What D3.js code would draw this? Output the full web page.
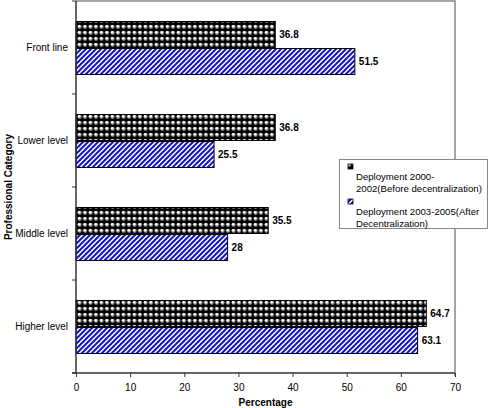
<!DOCTYPE html>
<html><head><meta charset="utf-8">
<script src="https://cdn.jsdelivr.net/npm/d3@7"></script>
<style>body{margin:0;background:#fff}svg{display:block;font-family:"Liberation Sans",Arial,sans-serif}</style>
</head><body><svg id="c" width="489" height="408"></svg>
<script>
const categories = ["Front line","Lower level","Middle level","Higher level"];
const seriesNames = ["Deployment 2000-2002(Before decentralization)","Deployment 2003-2005(After Decentralization)"];
const before = [36.8, 36.8, 35.5, 64.7];
const after = [51.5, 25.5, 28, 63.1];
const afterLabels = ["51.5","25.5","28","63.1"];
const beforeLabels = ["36.8","36.8","35.5","64.7"];
const xTicks = [0,10,20,30,40,50,60,70];

const svg = d3.select("#c");
const defs = svg.append("defs");
// bead pattern
const p1 = defs.append("pattern").attr("id","beads").attr("patternUnits","userSpaceOnUse").attr("width",5.5).attr("height",6);
p1.append("rect").attr("width",6).attr("height",6).attr("fill","#000");
p1.append("circle").attr("cx",2.6).attr("cy",2.8).attr("r",2.1).attr("fill","#888");
p1.append("circle").attr("cx",2.2).attr("cy",2.3).attr("r",1.4).attr("fill","#fff");
// stripe pattern
const p2 = defs.append("pattern").attr("id","stripes").attr("patternUnits","userSpaceOnUse").attr("width",5).attr("height",5);
p2.append("rect").attr("width",5).attr("height",5).attr("fill","#fff");
p2.append("path").attr("d","M-1,6 L6,-1 M-2,2 L2,-2 M3,7 L7,3").attr("stroke","#1414c8").attr("stroke-width",2);

const pL = 76, pR = 455, pT = 1, pB = 373;
const x = d3.scaleLinear().domain([0,70]).range([pL,pR]);
const y = d3.scaleBand().domain(categories).range([pT,pB]).paddingInner(0.43).paddingOuter(0.215);
const ySub = d3.scaleBand().domain([0,1]).range([0,y.bandwidth()]).paddingInner(0.04);

// frame
svg.append("path").attr("d",`M${pL},${pT}H${pR}V${pB+3}`).attr("fill","none").attr("stroke","#888").attr("stroke-width",1.5);

const fills = ["url(#beads)","url(#stripes)"];
const data = [before, after];
const labs = [beforeLabels, afterLabels];
data.forEach((vals,si)=>{
  svg.append("g").selectAll("rect").data(vals).join("rect")
    .attr("x",x(0)).attr("y",(d,i)=>y(categories[i])+ySub(si)+0.5)
    .attr("width",d=>x(d)-x(0)).attr("height",ySub.bandwidth())
    .attr("fill",fills[si]).attr("stroke","#000").attr("stroke-width",1);
  svg.append("g").selectAll("text").data(vals).join("text")
    .attr("x",d=>x(d)+4).attr("y",(d,i)=>y(categories[i])+ySub(si)+ySub.bandwidth()/2+4)
    .attr("font-size",10).attr("font-weight","bold").text((d,i)=>labs[si][i]);
});

// x axis
const xa = svg.append("g").attr("transform",`translate(0,${pB})`)
  .call(d3.axisBottom(x).tickValues(xTicks).tickSize(4).tickSizeOuter(0));
xa.select(".domain").attr("stroke","#333").attr("stroke-width",1.5);
xa.selectAll(".tick line").attr("stroke","#333");
xa.selectAll("text").attr("font-size",10).attr("font-family","Liberation Sans, Arial").attr("dy","1.1em");
xa.select(".domain").attr("d",`M${pL-4},0H${pR}`);

// y axis
const yt = d3.scalePoint().domain(d3.range(5)).range([pT,pB]);
svg.append("line").attr("x1",pL).attr("x2",pL).attr("y1",pT).attr("y2",pB).attr("stroke","#333").attr("stroke-width",1.5);
svg.append("g").selectAll("line").data(d3.range(5)).join("line")
  .attr("x1",pL-4).attr("x2",pL).attr("y1",d=>yt(d)).attr("y2",d=>yt(d)).attr("stroke","#333");
svg.append("g").selectAll("text").data(categories).join("text")
  .attr("x",68).attr("y",d=>y(d)+y.bandwidth()/2+3.5).attr("text-anchor","end")
  .attr("font-size",10).text(d=>d);

svg.append("text").attr("x",(pL+pR)/2).attr("y",406).attr("text-anchor","middle")
  .attr("font-size",10).attr("font-weight","bold").text("Percentage");
svg.append("text").attr("transform","translate(12,187) rotate(-90)").attr("text-anchor","middle")
  .attr("font-size",10).attr("font-weight","bold").text("Professional Category");

// legend
const lg = svg.append("g");
lg.append("rect").attr("x",339.5).attr("y",159.5).attr("width",148).attr("height",69).attr("fill","#fff").attr("stroke","#888");
const legLines = [["Deployment 2000-","2002(Before decentralization)"],["Deployment 2003-2005(After","Decentralization)"]];
legLines.forEach((ls,i)=>{
  const by = 164 + i*35;
  lg.append("rect").attr("x",348).attr("y",by).attr("width",5).attr("height",5).attr("fill",fills[i]).attr("stroke","#000").attr("stroke-width",0.8);
  ls.forEach((t,j)=>{
    lg.append("text").attr("x",356).attr("y",by+16+j*12).attr("font-size",9.6).text(t);
  });
});
</script></body></html>
